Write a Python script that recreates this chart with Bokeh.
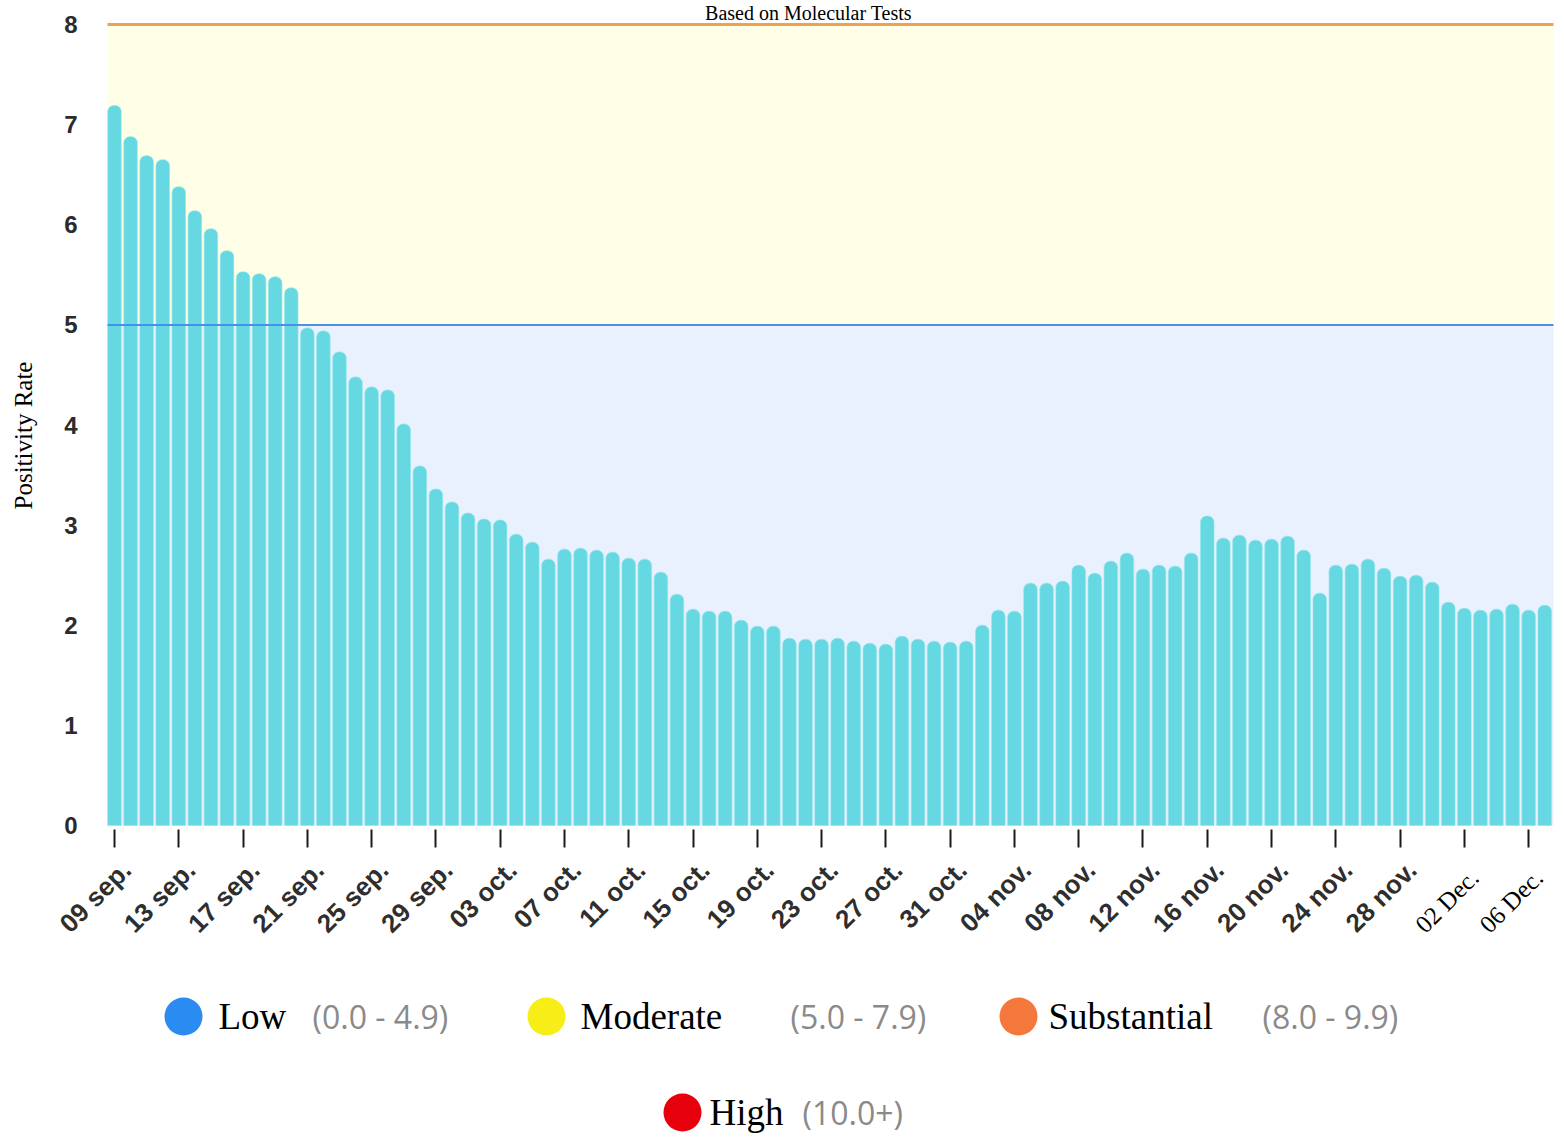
import math
from bokeh.plotting import figure
from bokeh.models import FixedTicker, BoxAnnotation, ColumnDataSource
from bokeh.embed import file_html
from bokeh.resources import INLINE
from bokeh.core.properties import value

# ---------------- data ----------------
rates = [7.19, 6.88, 6.69, 6.65, 6.38, 6.14, 5.96, 5.74, 5.53, 5.51,
         5.48, 5.37, 4.97, 4.94, 4.73, 4.48, 4.38, 4.35, 4.01, 3.59,
         3.36, 3.23, 3.12, 3.06, 3.05, 2.91, 2.83, 2.66, 2.76, 2.77,
         2.75, 2.73, 2.67, 2.66, 2.53, 2.31, 2.16, 2.14, 2.14, 2.05,
         1.99, 1.99, 1.87, 1.86, 1.86, 1.87, 1.84, 1.82, 1.81, 1.89,
         1.86, 1.84, 1.83, 1.84, 2.00, 2.15, 2.14, 2.42, 2.42, 2.44,
         2.60, 2.52, 2.64, 2.72, 2.56, 2.60, 2.59, 2.72, 3.09, 2.87,
         2.90, 2.85, 2.86, 2.89, 2.75, 2.32, 2.60, 2.61, 2.66, 2.57,
         2.49, 2.50, 2.43, 2.23, 2.17, 2.15, 2.16, 2.21, 2.15, 2.20]

tick_labels = ["09 sep.", "13 sep.", "17 sep.", "21 sep.", "25 sep.", "29 sep.",
               "03 oct.", "07 oct.", "11 oct.", "15 oct.", "19 oct.", "23 oct.",
               "27 oct.", "31 oct.", "04 nov.", "08 nov.", "12 nov.", "16 nov.",
               "20 nov.", "24 nov.", "28 nov.", "02 Dec.", "06 Dec."]
serif_tick_labels = ["02 Dec.", "06 Dec."]
tick_step = 4

y_ticks = [0, 1, 2, 3, 4, 5, 6, 7, 8]
low_limit = 5
moderate_limit = 8

legend_names = ["Low", "Moderate", "Substantial", "High"]
legend_ranges = ["(0.0 - 4.9)", "(5.0 - 7.9)", "(8.0 - 9.9)", "(10.0+)"]
legend_colors = ["#2a8cf0", "#f6ee16", "#f4773c", "#e6000c"]

title_text = "Based on Molecular Tests"
y_title = "Positivity Rate"

# ---------------- page geometry (screen pixels) ----------------
OX, OY = 0, 0
FIG_W, FIG_H = 1556, 1136
X0_PX, DX_PX = 114.0, 16.07   # screen x of first bar centre, px per day
Y0_PX, Y8_PX = 825.0, 24.0    # screen y of value 0 and value 8
PPU = (Y0_PX - Y8_PX) / 8.0


def xd(X):
    return (X - X0_PX) / DX_PX


def yd(Y):
    return (Y0_PX - Y) / PPU


n = len(rates)
src = ColumnDataSource(dict(x=list(range(n)), top=rates))

p = figure(width=FIG_W, height=FIG_H,
           x_range=(xd(OX), xd(OX + FIG_W)), y_range=(yd(OY + FIG_H), yd(OY)),
           output_backend="svg", toolbar_location=None,
           min_border_left=0, min_border_right=0, min_border_top=0, min_border_bottom=0)
p.outline_line_color = None
p.grid.visible = False

left_edge, right_edge = xd(107), xd(1553)

p.add_layout(BoxAnnotation(left=left_edge, right=right_edge, bottom=0, top=low_limit,
                           fill_color="#e8f1fd", fill_alpha=1.0, line_color=None,
                           level="underlay"))
p.add_layout(BoxAnnotation(left=left_edge, right=right_edge, bottom=low_limit,
                           top=moderate_limit, fill_color="#fffee6", fill_alpha=1.0,
                           line_color=None, level="underlay"))

p.vbar(x="x", top="top", bottom=0, width=0.84, source=src,
       fill_color="#66d8e2", line_color="#8fe5ec", line_width=0.6,
       border_radius=(6, 6, 0, 0))

p.segment(x0=[left_edge], x1=[right_edge], y0=[low_limit], y1=[low_limit],
          line_color="#4a90ea", line_width=2)
p.segment(x0=[left_edge], x1=[right_edge], y0=[moderate_limit], y1=[moderate_limit],
          line_color="#f2a24c", line_width=3)

# x axis (ticks only; labels drawn as rotated text)
tick_pos = list(range(0, n, tick_step))[:len(tick_labels)]
xa = p.xaxis[0]
xa.fixed_location = yd(829)
xa.ticker = FixedTicker(ticks=tick_pos)
xa.major_label_overrides = {t: "" for t in tick_pos}
xa.major_label_text_font_size = "1px"
xa.axis_line_color = None
xa.major_tick_out = 18
xa.major_tick_in = 0
xa.major_tick_line_color = "#1a1a1a"
xa.major_tick_line_width = 2
xa.minor_tick_line_color = None

sans_x, sans_y, sans_t = [], [], []
serif_x, serif_y, serif_t = [], [], []
for tp, lab in zip(tick_pos, tick_labels):
    if lab in serif_tick_labels:
        serif_x.append(tp + 10 / DX_PX)
        serif_y.append(yd(873))
        serif_t.append(lab)
    else:
        sans_x.append(tp + 12 / DX_PX)
        sans_y.append(yd(865))
        sans_t.append(lab)

p.text(x=sans_x, y=sans_y, text=sans_t, angle=math.pi / 4,
       text_align="right", text_baseline="middle",
       text_font=value("Liberation Sans"), text_font_style="bold",
       text_font_size="26px", text_color="#2e2e2e")
p.text(x=serif_x, y=serif_y, text=serif_t, angle=math.pi / 4,
       text_align="right", text_baseline="middle",
       text_font=value("Liberation Serif"), text_font_size="25px",
       text_color="#000000")

# y axis
ya = p.yaxis[0]
ya.fixed_location = left_edge
ya.ticker = FixedTicker(ticks=y_ticks)
ya.axis_line_color = None
ya.major_tick_line_color = None
ya.major_tick_out = 0
ya.major_tick_in = 0
ya.minor_tick_line_color = None
ya.minor_tick_out = 0
ya.major_label_standoff = 30
ya.major_label_text_font = "Liberation Sans"
ya.major_label_text_font_style = "bold"
ya.major_label_text_font_size = "24px"
ya.major_label_text_color = "#2b2b2b"

p.text(x=[xd(23)], y=[yd(435)], text=[y_title], angle=math.pi / 2,
       text_align="center", text_baseline="middle",
       text_font=value("Liberation Serif"), text_font_size="25px",
       text_color="#000000")

# title
p.text(x=[xd(808)], y=[yd(1)], text=[title_text], text_align="center",
       text_baseline="top", text_font=value("Liberation Serif"),
       text_font_size="20px", text_color="#000000")

# ---------------- legend ----------------
circle_X = [183, 546, 1018, 682]
name_X = [218, 580, 1048, 709]
range_X = [312, 790, 1262, 802]
row_Y = [1016, 1016, 1016, 1112]

p.scatter(x=[xd(v) for v in circle_X], y=[yd(v) for v in row_Y], size=38,
          marker="circle", fill_color=legend_colors, line_color=None)
p.text(x=[xd(v) for v in name_X], y=[yd(v) for v in row_Y], text=legend_names,
       text_align="left", text_baseline="middle",
       text_font=value("Liberation Serif"), text_font_size="37px",
       text_color="#000000")
p.text(x=[xd(v) for v in range_X], y=[yd(v) for v in row_Y], text=legend_ranges,
       text_align="left", text_baseline="middle",
       text_font=value("Open Sans"), text_font_size="32px",
       text_color="#8a8a8a")

open("out.html", "w").write(file_html(p, INLINE))
